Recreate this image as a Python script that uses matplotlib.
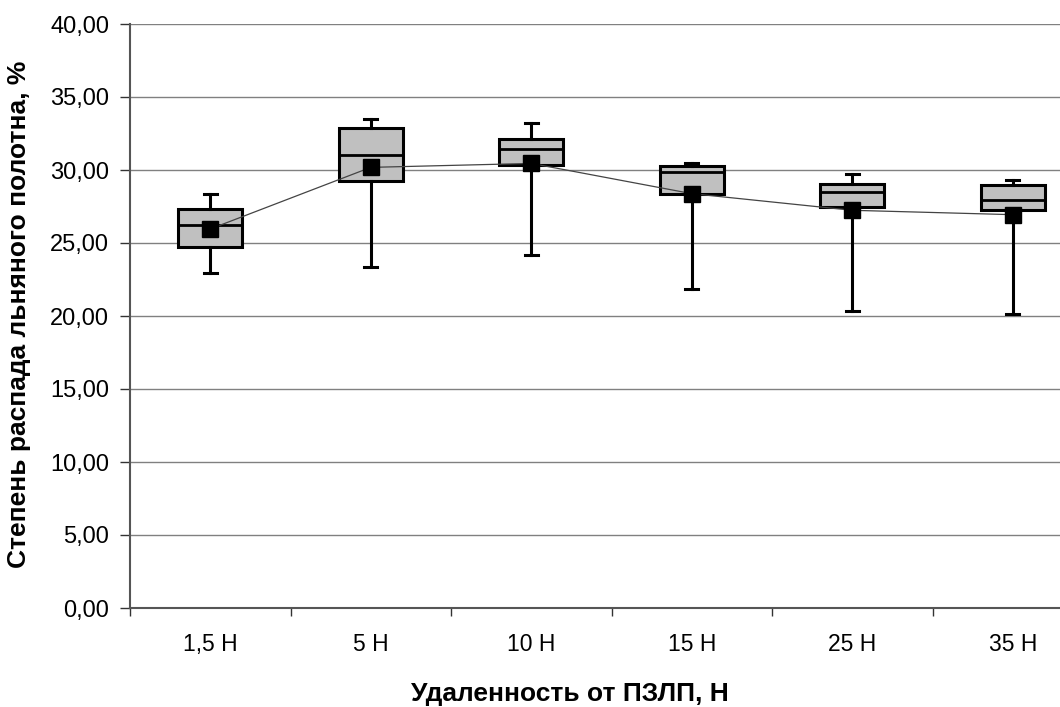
import matplotlib
matplotlib.use("Agg")
import matplotlib.pyplot as plt
import numpy as np

categories = ["1,5 H", "5 H", "10 H", "15 H", "25 H", "35 H"]
whisker_low = [22.97, 23.38, 24.18, 21.85, 20.34, 20.16]
q1 = [24.75, 29.27, 30.36, 28.38, 27.49, 27.24]
median = [26.23, 31.03, 31.44, 29.89, 28.52, 27.97]
q3 = [27.33, 32.85, 32.15, 30.27, 29.04, 28.97]
whisker_high = [28.33, 33.47, 33.24, 30.46, 29.75, 29.29]
means = [25.96, 30.18, 30.45, 28.38, 27.24, 26.94]

yticks = [0, 5, 10, 15, 20, 25, 30, 35, 40]
ytick_labels = ["0,00", "5,00", "10,00", "15,00", "20,00", "25,00", "30,00", "35,00", "40,00"]

plt.rcParams['font.family'] = ['Liberation Sans', 'DejaVu Sans']

fig = plt.figure(figsize=(10.6, 7.07), dpi=100)
ax = fig.add_axes([130/1060, 99/707, 963/1060, 584/707])

x = np.arange(len(categories)) + 0.5

stats = []
for i in range(len(categories)):
    stats.append(dict(whislo=whisker_low[i], q1=q1[i], med=median[i],
                      q3=q3[i], whishi=whisker_high[i], fliers=[]))

ax.bxp(stats, positions=x, widths=0.4, patch_artist=True, showfliers=False,
       boxprops=dict(facecolor="#c0c0c0", edgecolor="black", linewidth=2.2),
       medianprops=dict(color="black", linewidth=2),
       whiskerprops=dict(color="black", linewidth=2.2),
       capprops=dict(color="black", linewidth=2.2),
       capwidths=0.08, zorder=3)

ax.plot(x, means, color="#444444", linewidth=0.9, zorder=4)
ax.plot(x, means, linestyle="none", marker="s", markersize=11,
        color="black", zorder=5)

ax.set_xlim(0, len(categories))
ax.set_ylim(0, 40)
ax.set_yticks(yticks)
ax.set_yticklabels(ytick_labels, fontsize=17)
ax.set_xticks(np.arange(len(categories) + 1))
ax.set_xticklabels([])
ax.set_xticks(x, minor=True)
ax.set_xticklabels(categories, minor=True, fontsize=16.5)
for lab in ax.get_xticklabels(minor=True):
    lab.set_verticalalignment("baseline")
ax.tick_params(axis="x", which="minor", length=0, pad=31)
ax.tick_params(axis="x", which="major", length=6, color="#333333", width=1)
ax.tick_params(axis="y", length=7, color="#333333", width=1, pad=8)

ax.grid(axis="y", color="#808080", linewidth=1)
ax.set_axisbelow(True)
for s in ["top", "right"]:
    ax.spines[s].set_visible(False)
ax.spines["left"].set_color("#555555")
ax.spines["left"].set_linewidth(1.5)
ax.spines["bottom"].set_color("#555555")
ax.spines["bottom"].set_linewidth(1.5)

fig.text(570/1060, 1 - 694/707, "Удаленность от ПЗЛП, Н", ha="center", va="center",
         fontsize=19, fontweight="bold")
fig.text(19/1060, 1 - 314/707, "Степень распада льняного полотна, %", ha="center",
         va="center", rotation=90, fontsize=19, fontweight="bold")

fig.savefig("out.png", dpi=100)
